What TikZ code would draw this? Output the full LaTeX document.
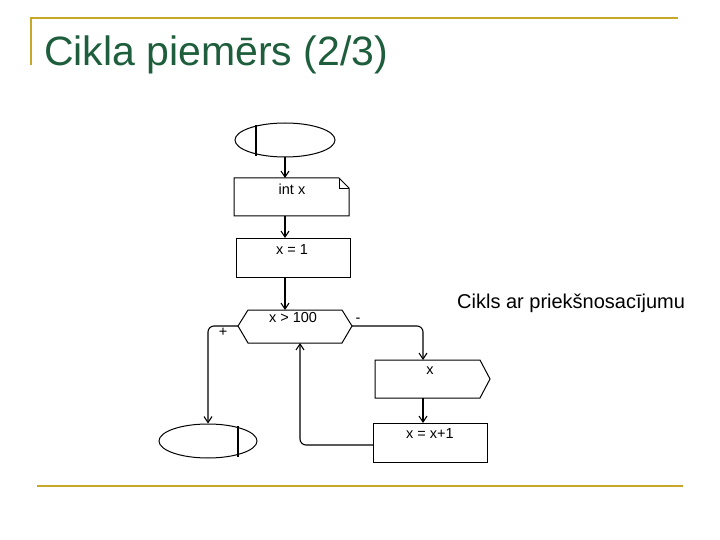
\documentclass[tikz,border=0pt]{standalone}
\usepackage{fontspec}
\setmainfont{Liberation Sans}
\usetikzlibrary{shapes.geometric,arrows.meta}
\definecolor{olive}{HTML}{C8A828}
\definecolor{titlegreen}{HTML}{1E5E3C}
\begin{document}
\begin{tikzpicture}[x=1pt,y=-1pt,
  box/.style={draw,line width=1pt},
  conn/.style={draw,line width=1.1pt,-{Straight Barb[length=6pt,width=8pt]},rounded corners=6pt},
  lbl/.style={font=\fontsize{14.5}{16}\selectfont,anchor=center,inner sep=0pt}]
\useasboundingbox (0,0) rectangle (720,540);
% frame lines
\draw[olive,line width=2.5pt] (30,18) -- (678,18);
\draw[olive,line width=2.5pt] (31,17) -- (31,65);
\draw[olive,line width=2.5pt] (37,486) -- (683,486);
\node[anchor=base west,text=titlegreen,font=\fontsize{41}{46}\selectfont,inner sep=0pt] (title) at (44,66) {Cikla piemērs (2/3)};
\node[anchor=base west,font=\fontsize{20}{22}\selectfont,inner sep=0pt] (note) at (457,308) {Cikls ar priekšnosacījumu};
% start
\node[box,ellipse,minimum width=100pt,minimum height=34pt,inner sep=0pt] (start) at (285,140) {};
\draw[line width=2.5pt] (256,125) -- (256,156);
% int x
\draw[box] (234,178) -- (339,178) -- (349,188) -- (349,216) -- (234,216) -- cycle;
\draw[line width=0.6pt] (339,178) -- (339,188) -- (349,188);
\coordinate (intT) at (285,178); \coordinate (intB) at (285,216);
\node[lbl] (intx) at (292,189) {int x};
% x=1
\draw[box] (236,238) rectangle (350,277);
\coordinate (oneT) at (285,238); \coordinate (oneB) at (285,277);
\node[lbl] (one) at (292,250) {x = 1};
% decision
\draw[box] (238,326) -- (248,310) -- (342,310) -- (352,326) -- (342,343) -- (248,343) -- cycle;
\coordinate (decT) at (285,310); \coordinate (decL) at (238,326); \coordinate (decR) at (352,326);
\coordinate (decB) at (300,343);
\node[lbl] (dec) at (293,318) {x > 100};
\node[lbl] (plus) at (223,332) {+};
\node[lbl] (minus) at (358,320) {-};
% output
\draw[box] (375,360) -- (480,360) -- (490,379) -- (480,398) -- (375,398) -- cycle;
\coordinate (outT) at (423,360); \coordinate (outB) at (423,398);
\node[lbl] (out) at (430,371) {x};
% increment
\draw[box] (373,423) rectangle (487,462);
\coordinate (incT) at (423,423); \coordinate (incL) at (373,445);
\node[lbl] (inc) at (430,434) {x = x+1};
% end
\node[box,ellipse,minimum width=98pt,minimum height=34pt,inner sep=0pt] (stop) at (208,441) {};
\draw[line width=2.5pt] (238,426) -- (238,457);
% connectors
\draw[conn] (285,157) -- (intT);
\draw[conn] (intB) -- (oneT);
\draw[conn] (oneB) -- (decT);
\draw[conn] (decL) -- (208,326) -- (stop.north);
\draw[conn] (decR) -- (423,326) -- (outT);
\draw[conn] (outB) -- (incT);
\draw[conn] (incL) -- (300,445) -- (decB);
\end{tikzpicture}
\end{document}
